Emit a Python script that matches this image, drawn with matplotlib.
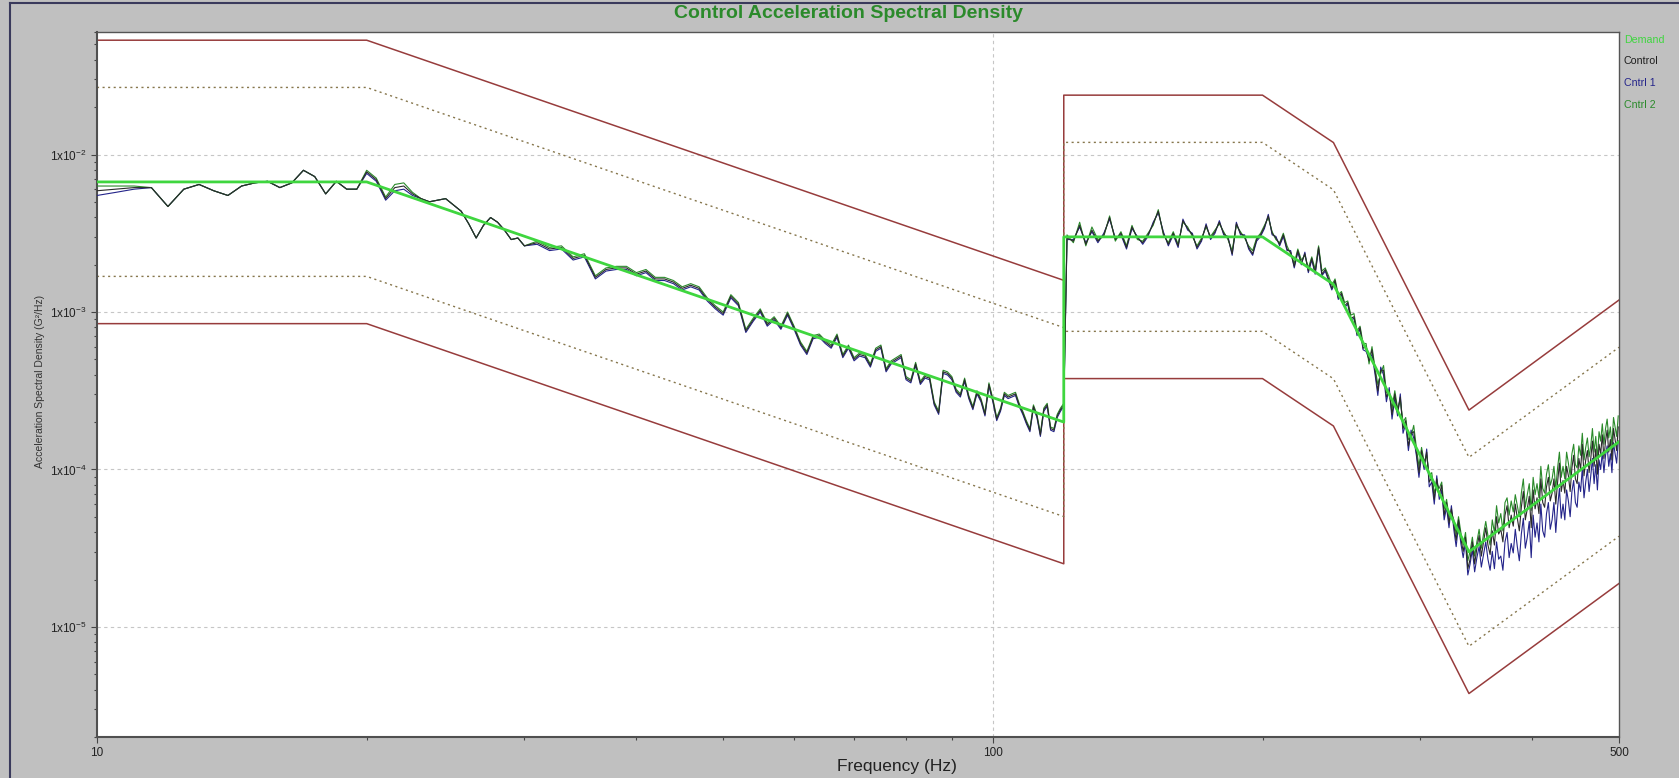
import numpy as np
import matplotlib
matplotlib.use('Agg')
import matplotlib.pyplot as plt
from matplotlib.lines import Line2D
from matplotlib.ticker import FixedLocator, LogLocator, NullFormatter

plt.rcParams['font.family'] = ['Liberation Sans', 'DejaVu Sans']
plt.rcParams['mathtext.default'] = 'regular'

# reference profile (G^2/Hz) and tolerance bands
demand_freq = [10, 20, 120, 120, 200, 240, 340, 500]
demand_asd = [0.0067, 0.0067, 0.0002, 0.003, 0.003, 0.0015, 0.00003, 0.00015]
alarm_db = 6
abort_db = 9

# analysis lines: 0.5 Hz from 10-30 Hz, 1 Hz up to 120 Hz, 2 Hz above
freq = np.concatenate([np.arange(10, 30.01, 0.5),
                       np.arange(31, 121, 1),
                       np.arange(121, 500, 2)])

# measured spectra in dB re 1 G^2/Hz
control_db = [
    # 10 - 30 Hz
    -22.3, -22.2, -22.1, -22.1, -23.3, -22.2, -21.9, -22.3, -22.6, -22.0,
    -21.8, -21.7, -22.1, -21.8, -21.0, -21.4, -22.5, -21.7, -22.2, -22.2,
    -21.1, -21.6, -22.8, -22.1, -22.0, -22.5, -22.8, -23.0, -22.9, -22.8,
    -23.2, -23.6, -24.4, -25.3, -24.5, -24.0, -24.3, -24.8, -25.4, -25.3,
    -25.8,
    # 31 - 120 Hz
    -25.6, -26.0, -25.9, -26.6, -26.4, -27.8, -27.3, -27.2, -27.2, -27.6,
    -27.4, -27.9, -27.9, -28.1, -28.5, -28.3, -28.5, -29.2, -29.7, -30.1,
    -29.0, -29.5, -31.2, -30.5, -29.9, -30.8, -30.4, -31.0, -30.1, -31.0,
    -32.0, -32.6, -31.6, -31.5, -31.9, -32.2, -31.5, -32.8, -32.2, -33.0,
    -32.7, -32.8, -33.4, -32.4, -32.2, -33.7, -33.2, -33.0, -32.8, -34.2,
    -34.4, -33.3, -34.5, -34.1, -34.2, -35.8, -36.4, -33.8, -33.9, -34.2,
    -35.0, -35.3, -34.3, -35.4, -36.1, -35.1, -35.6, -36.5, -34.6, -35.6,
    -36.8, -36.2, -35.2, -35.4, -35.3, -35.2, -35.9, -36.4, -37.0, -37.5,
    -36.0, -36.6, -37.8, -36.2, -35.9, -37.4, -37.5, -36.6, -36.2, -35.9,
    # 121 - 499 Hz
    -25.3, -25.5, -24.5, -25.7, -24.8, -25.5, -25.1, -24.0, -25.4, -25.0,
    -25.9, -24.6, -25.3, -25.6, -25.1, -24.4, -23.6, -25.0, -25.7, -25.0,
    -25.8, -24.2, -24.7, -25.1, -25.9, -25.4, -24.5, -25.3, -24.9, -24.3,
    -25.0, -25.3, -26.3, -24.4, -25.0, -25.2, -25.9, -26.3, -25.4, -25.1,
    -24.6, -23.9, -25.0, -25.3, -25.7, -25.1, -26.0, -26.2, -27.1, -26.1,
    -26.9, -26.3, -27.4, -26.6, -27.5, -25.9, -27.6, -27.3, -27.9, -28.5,
    -28.0, -29.1, -28.8, -29.6, -29.4, -30.4, -30.3, -31.4, -31.0, -32.3,
    -32.2, -33.1, -32.4, -33.7, -35.0, -33.7, -33.7, -35.4, -35.0, -36.5,
    -35.2, -36.4, -35.4, -37.4, -36.9, -38.5, -37.7, -37.6, -38.9, -40.2,
    -38.8, -39.8, -38.9, -40.8, -40.5, -41.9, -40.6, -41.6, -41.0, -42.9,
    -42.1, -43.4, -42.5, -43.5, -44.5, -43.2, -44.4, -45.2, -44.3, -46.3,
    -45.7, -44.6, -46.0, -45.0, -44.2, -45.5, -44.6, -43.7, -44.8, -45.4,
    -43.9, -44.8, -43.0, -44.1, -43.8, -44.6, -42.9, -42.3, -43.7, -42.9,
    -43.6, -42.2, -43.1, -43.9, -42.4, -41.4, -43.2, -42.5, -41.7, -43.7,
    -41.3, -42.5, -41.8, -42.8, -40.6, -42.1, -42.4, -41.1, -40.5, -42.0,
    -41.5, -40.6, -42.2, -40.8, -39.6, -41.4, -40.7, -41.5, -39.8, -40.4,
    -41.4, -39.9, -39.1, -40.6, -40.9, -39.3, -40.0, -38.4, -40.4, -39.4,
    -38.8, -40.2, -39.3, -38.2, -39.8, -38.7, -40.3, -38.4, -39.0, -37.8,
    -39.3, -38.2, -37.5, -38.9, -38.1, -39.4, -37.4, -38.1, -38.8, -37.3,
]

cntrl1_db = [
    -22.6, -22.4, -22.2, -22.1, -23.3, -22.2, -21.9, -22.3, -22.6, -22.0,
    -21.8, -21.7, -22.1, -21.8, -21.0, -21.4, -22.5, -21.7, -22.2, -22.2,
    -21.2, -21.7, -22.9, -22.3, -22.2, -22.6, -22.8, -23.0, -22.9, -22.8,
    -23.2, -23.6, -24.4, -25.3, -24.5, -24.0, -24.3, -24.8, -25.4, -25.3,
    -25.8,
    -25.7, -26.1, -26.0, -26.7, -26.5, -27.9, -27.4, -27.3, -27.3, -27.7,
    -27.5, -28.0, -28.0, -28.2, -28.6, -28.4, -28.6, -29.3, -29.8, -30.2,
    -29.1, -29.6, -31.3, -30.6, -30.0, -30.9, -30.5, -31.1, -30.2, -31.1,
    -32.1, -32.7, -31.7, -31.6, -32.0, -32.3, -31.6, -32.9, -32.3, -33.1,
    -32.8, -32.9, -33.5, -32.5, -32.3, -33.8, -33.3, -33.1, -32.9, -34.3,
    -34.5, -33.4, -34.6, -34.2, -34.3, -35.9, -36.5, -33.9, -34.0, -34.3,
    -35.1, -35.4, -34.4, -35.5, -36.2, -35.2, -35.7, -36.6, -34.7, -35.7,
    -36.9, -36.3, -35.3, -35.5, -35.4, -35.3, -36.0, -36.5, -37.1, -37.6,
    -36.1, -36.7, -37.9, -36.3, -36.0, -37.5, -37.6, -36.7, -36.3, -36.0,
    -25.4, -25.4, -24.6, -25.6, -24.9, -25.6, -25.0, -24.1, -25.3, -25.1,
    -26.0, -24.7, -25.2, -25.7, -25.2, -24.3, -23.7, -24.9, -25.8, -25.1,
    -25.9, -24.1, -24.8, -25.0, -26.0, -25.5, -24.4, -25.4, -25.0, -24.2,
    -25.1, -25.2, -26.4, -24.3, -25.1, -25.1, -26.0, -26.4, -25.5, -25.2,
    -24.7, -23.8, -25.1, -25.2, -25.8, -25.2, -26.1, -26.1, -27.2, -26.2,
    -27.0, -26.2, -27.5, -26.7, -27.6, -26.0, -27.7, -27.4, -28.0, -28.6,
    -28.1, -29.2, -28.9, -29.7, -29.5, -30.5, -30.4, -31.5, -31.1, -32.4,
    -32.5, -33.0, -32.7, -33.9, -35.3, -33.5, -34.0, -35.7, -34.8, -36.8,
    -35.5, -36.6, -35.2, -37.7, -37.1, -38.8, -37.5, -38.0, -39.1, -40.5,
    -39.1, -40.0, -38.7, -41.1, -40.8, -42.2, -40.4, -41.9, -41.3, -43.2,
    -42.4, -43.7, -42.3, -43.8, -44.9, -43.5, -44.7, -45.6, -44.6, -46.7,
    -46.0, -45.1, -46.5, -45.6, -44.9, -46.2, -45.4, -44.6, -45.7, -46.4,
    -45.2, -46.3, -44.6, -45.7, -45.5, -46.4, -44.6, -44.0, -45.6, -44.7,
    -45.3, -43.8, -44.9, -45.8, -44.1, -43.1, -45.0, -44.3, -43.3, -45.6,
    -42.9, -44.3, -43.4, -44.6, -42.2, -43.9, -44.3, -42.8, -42.1, -43.8,
    -43.2, -42.1, -44.0, -42.4, -41.2, -43.1, -42.2, -43.2, -41.3, -42.0,
    -43.0, -41.4, -40.7, -42.1, -42.4, -40.8, -41.4, -39.9, -41.8, -40.8,
    -40.0, -41.4, -40.4, -39.3, -40.9, -39.7, -41.3, -39.4, -40.0, -38.9,
    -40.2, -39.1, -38.5, -39.8, -39.0, -40.2, -38.3, -39.0, -39.6, -38.2,
]

cntrl2_db = [
    -22.0, -22.0, -22.0, -22.1, -23.3, -22.2, -21.9, -22.3, -22.6, -22.0,
    -21.8, -21.7, -22.1, -21.8, -21.0, -21.4, -22.5, -21.7, -22.2, -22.2,
    -21.0, -21.5, -22.7, -21.9, -21.8, -22.4, -22.8, -23.0, -22.9, -22.8,
    -23.2, -23.6, -24.4, -25.3, -24.5, -24.0, -24.3, -24.8, -25.4, -25.3,
    -25.8,
    -25.5, -25.9, -25.8, -26.5, -26.3, -27.7, -27.2, -27.1, -27.1, -27.5,
    -27.3, -27.8, -27.8, -28.0, -28.4, -28.2, -28.4, -29.1, -29.6, -30.0,
    -28.9, -29.4, -31.1, -30.4, -29.8, -30.7, -30.3, -30.9, -30.0, -30.9,
    -31.9, -32.5, -31.5, -31.4, -31.8, -32.1, -31.4, -32.7, -32.1, -32.9,
    -32.6, -32.7, -33.3, -32.3, -32.1, -33.6, -33.1, -32.9, -32.7, -34.1,
    -34.3, -33.2, -34.4, -34.0, -34.1, -35.7, -36.3, -33.7, -33.8, -34.1,
    -34.9, -35.2, -34.2, -35.3, -36.0, -35.0, -35.5, -36.4, -34.5, -35.5,
    -36.7, -36.1, -35.1, -35.3, -35.2, -35.1, -35.8, -36.3, -36.9, -37.4,
    -35.9, -36.5, -37.7, -36.1, -35.8, -37.3, -37.4, -36.5, -36.1, -35.8,
    -25.1, -25.6, -24.3, -25.8, -24.6, -25.4, -25.2, -23.9, -25.5, -24.9,
    -25.8, -24.5, -25.4, -25.5, -25.0, -24.5, -23.5, -25.1, -25.6, -24.9,
    -25.7, -24.3, -24.6, -25.2, -25.8, -25.3, -24.6, -25.2, -24.8, -24.4,
    -24.9, -25.4, -26.1, -24.5, -24.9, -25.3, -25.8, -26.1, -25.3, -25.0,
    -24.5, -24.0, -24.9, -25.4, -25.6, -25.0, -25.8, -26.3, -26.9, -26.0,
    -26.7, -26.4, -27.2, -26.5, -27.3, -25.8, -27.4, -27.2, -27.7, -28.3,
    -27.9, -28.9, -28.7, -29.4, -29.3, -30.2, -30.1, -31.2, -30.9, -32.0,
    -32.0, -33.3, -32.2, -33.5, -34.6, -33.9, -33.4, -35.1, -35.2, -36.1,
    -35.0, -36.1, -35.6, -37.0, -36.7, -38.1, -37.9, -37.2, -38.6, -39.8,
    -38.6, -39.5, -39.1, -40.4, -40.2, -41.5, -40.9, -41.2, -40.8, -42.5,
    -41.9, -43.0, -42.7, -43.2, -44.1, -43.0, -44.0, -44.8, -44.0, -45.8,
    -45.2, -44.3, -45.5, -44.6, -43.8, -45.0, -44.1, -43.3, -44.2, -44.8,
    -43.2, -44.0, -42.3, -43.4, -42.8, -43.9, -42.1, -41.8, -42.9, -42.0,
    -42.7, -41.6, -42.3, -43.0, -41.5, -40.6, -42.4, -41.6, -40.9, -42.6,
    -40.5, -41.6, -40.9, -41.8, -39.8, -41.2, -41.5, -40.3, -39.7, -41.0,
    -40.6, -39.8, -41.2, -39.9, -38.9, -40.5, -39.8, -40.6, -38.9, -39.6,
    -40.4, -39.0, -38.4, -39.7, -39.9, -38.5, -39.1, -37.7, -39.4, -38.6,
    -38.0, -39.2, -38.5, -37.4, -38.9, -37.9, -39.3, -37.6, -38.2, -37.1,
    -38.4, -37.4, -36.8, -38.0, -37.3, -38.5, -36.7, -37.3, -37.9, -36.6,
]

legend_names = ['Demand', 'Control', 'Cntrl 1', 'Cntrl 2']
legend_colors = ['#3fd63f', '#1e1e1e', '#24248a', '#2a8a2a']

W, H = 1679, 778
fig = plt.figure(figsize=(W / 100, H / 100), dpi=100, facecolor='#c0c0c0')
ax = fig.add_axes([97 / W, 41 / H, 1522 / W, 705 / H])
ax.set_facecolor('white')
ax.set_xscale('log')
ax.set_yscale('log')
ax.set_xlim(10, 500)
ax.set_ylim(2e-6, 0.06)

# dashed grid: decades on y, 100 Hz on x
for y in [1e-2, 1e-3, 1e-4, 1e-5]:
    ax.axhline(y, color='#c6c6c6', lw=0.8, ls=(0, (3, 3)), zorder=0)
ax.axvline(100, color='#c6c6c6', lw=0.8, ls=(0, (3, 3)), zorder=0)

# abort and alarm limits
d = np.array(demand_asd)
for db in [abort_db, -abort_db]:
    ax.plot(demand_freq, d * 10 ** (db / 10), color='#973c3c', lw=1.1, zorder=2)
for db in [alarm_db, -alarm_db]:
    ax.plot(demand_freq, d * 10 ** (db / 10), color='#86764c', lw=1.0,
            ls=(0, (1.5, 2.5)), zorder=2)

ax.plot(freq, 10 ** (np.array(cntrl1_db) / 10), color=legend_colors[2], lw=0.8, zorder=3)
ax.plot(freq, 10 ** (np.array(cntrl2_db) / 10), color=legend_colors[3], lw=0.8, zorder=3)
ax.plot(freq, 10 ** (np.array(control_db) / 10), color='#2a2a2a', lw=0.8, zorder=4)
ax.plot(demand_freq, demand_asd, color=legend_colors[0], lw=2.0, zorder=5)

# ticks
ax.set_xticks([10, 100, 500])
ax.set_xticklabels(['10', '100', '500'])
ax.xaxis.set_minor_locator(FixedLocator([20, 30, 40, 50, 60, 70, 80, 90, 200, 300, 400]))
ax.xaxis.set_minor_formatter(NullFormatter())
ax.set_yticks([1e-5, 1e-4, 1e-3, 1e-2])
ax.set_yticklabels(['1x10$^{-5}$', '1x10$^{-4}$', '1x10$^{-3}$', '1x10$^{-2}$'])
ax.yaxis.set_minor_locator(LogLocator(base=10, subs=np.arange(2, 10)))
ax.yaxis.set_minor_formatter(NullFormatter())
ax.tick_params(which='major', direction='out', length=4, width=0.8, color='#444444',
               labelsize=8.5, labelcolor='#222222')
ax.tick_params(which='minor', direction='out', length=2.5, width=0.8, color='#444444')

for side in ['top', 'right']:
    ax.spines[side].set_color('#555555')
    ax.spines[side].set_linewidth(1.0)
for side in ['left', 'bottom']:
    ax.spines[side].set_color('#505050')
    ax.spines[side].set_linewidth(1.5)

fig.text(848 / W, 1 - 14 / H, 'Control Acceleration Spectral Density', ha='center',
         va='center', fontsize=14, fontweight='bold', color='#2b8a2b')
fig.text(897 / W, 1 - 767 / H, 'Frequency (Hz)', ha='center', va='center',
         fontsize=12.5, color='#222222')
fig.text(40 / W, 1 - 381 / H, 'Acceleration Spectral Density (G\u00b2/Hz)', rotation=90,
         ha='center', va='center', fontsize=7.5, color='#333333')

# legend as plain coloured labels at the right of the plot
for i, name in enumerate(legend_names):
    fig.text(1624 / W, 1 - (40 + 21.5 * i) / H, name, ha='left', va='center',
             fontsize=7.7, color=legend_colors[i])

# window frame
fig.add_artist(Line2D([10 / W, 10 / W], [0, 1 - 3 / H], transform=fig.transFigure,
                      color='#3a3a5c', lw=1.5))
fig.add_artist(Line2D([10 / W, 1], [1 - 3 / H, 1 - 3 / H], transform=fig.transFigure,
                      color='#3a3a5c', lw=1.5))

fig.savefig('out.png', dpi=100, facecolor=fig.get_facecolor())
